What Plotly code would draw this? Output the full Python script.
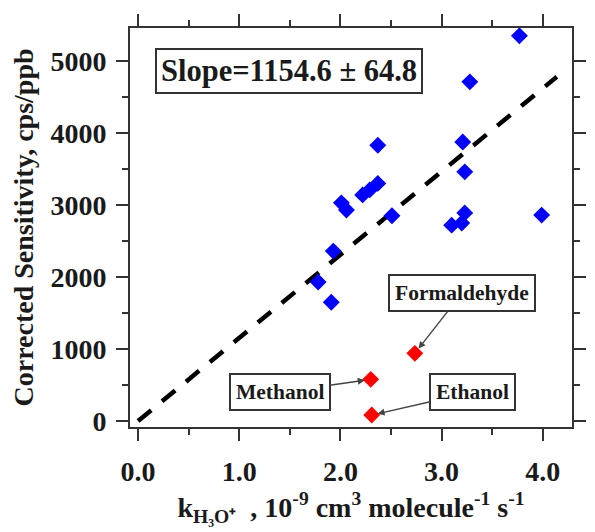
import plotly.graph_objects as go

# ---- data ----
blue_x = [1.78, 1.91, 1.93, 2.01, 2.06, 2.22, 2.29, 2.37, 2.37, 2.51, 3.10, 3.20, 3.23, 3.23, 3.21, 3.28, 3.77, 3.99]
blue_y = [1930, 1650, 2360, 3030, 2930, 3140, 3210, 3300, 3830, 2850, 2720, 2750, 2890, 3460, 3875, 4710, 5350, 2860]

red_x = [2.736, 2.30, 2.31]
red_y = [940, 579, 83]
red_labels = ["Formaldehyde", "Methanol", "Ethanol"]

slope = 1154.6
slope_err = 64.8
fit_x = [0.0, 4.14]
fit_y = [slope * v for v in fit_x]

x_ticks = [0.0, 1.0, 2.0, 3.0, 4.0]
y_ticks = [0, 1000, 2000, 3000, 4000, 5000]

FONT = "Liberation Serif, Times New Roman, serif"
TXT = "#1a1a1a"
AX = "#333333"

fig = go.Figure()

fig.add_trace(go.Scatter(
    x=fit_x, y=fit_y, mode="lines",
    line=dict(color="black", width=4.5, dash="17px,14px"),
    showlegend=False, hoverinfo="skip"))

fig.add_trace(go.Scatter(
    x=blue_x, y=blue_y, mode="markers",
    marker=dict(symbol="diamond", size=13, color="#0000ff", line=dict(width=0)),
    showlegend=False))

fig.add_trace(go.Scatter(
    x=red_x, y=red_y, mode="markers",
    marker=dict(symbol="diamond", size=13, color="#ff0000", line=dict(width=0)),
    showlegend=False))

# label offsets (pixels) from the points
offsets = {"Formaldehyde": (47, -60), "Methanol": (-91, 13), "Ethanol": (101, -23)}
annotations = []
for lx, ly, lab in zip(red_x, red_y, red_labels):
    ax_, ay_ = offsets[lab]
    annotations.append(dict(
        x=lx, y=ly, xref="x", yref="y", text=lab, showarrow=True,
        ax=ax_, ay=ay_, arrowhead=2, arrowsize=1, arrowwidth=1.4,
        arrowcolor="#444444", standoff=6,
        font=dict(family=FONT, size=21.5, color=TXT, weight="bold"),
        bordercolor=AX, borderwidth=2, borderpad=5, bgcolor="white"))

annotations.append(dict(
    x=0.36, y=0.893, xref="paper", yref="paper", showarrow=False,
    xanchor="center", yanchor="middle",
    text=f"Slope={slope:.1f} \u00b1 {slope_err:.1f}",
    font=dict(family=FONT, size=30.5, color=TXT, weight="bold"),
    bordercolor=AX, borderwidth=2, borderpad=4, bgcolor="white"))

axis_common = dict(
    showline=True, linecolor=AX, linewidth=2, mirror="ticks",
    ticks="outside", ticklen=12, tickwidth=2, tickcolor=AX,
    showgrid=False, zeroline=False, automargin=False,
    tickfont=dict(family=FONT, size=28, color=TXT, weight="bold"),
)

fig.update_layout(
    width=595, height=532,
    # page body adds an 8px offset; margins compensate for it
    margin=dict(l=122, r=31, t=20, b=113),
    paper_bgcolor="white", plot_bgcolor="white",
    annotations=annotations,
    xaxis=dict(
        **axis_common,
        range=[-0.08, 4.29], tickvals=x_ticks, tickformat=".1f",
        minor=dict(dtick=0.5, tick0=0, ticks="outside", ticklen=6, tickwidth=2, tickcolor=AX),
        ticklabelstandoff=6,
        title=dict(
            text="k<sub>H\u2083O\u207a</sub>  , 10<sup>-9</sup> cm<sup>3</sup> molecule<sup>-1</sup> s<sup>-1</sup>",
            font=dict(family=FONT, size=28, color=TXT, weight="bold"), standoff=12),
    ),
    yaxis=dict(
        **axis_common,
        range=[-83, 5458], tickvals=y_ticks, tickformat="d",
        minor=dict(dtick=500, tick0=0, ticks="outside", ticklen=6, tickwidth=2, tickcolor=AX),
        ticklabelstandoff=4,
        title=dict(
            text="Corrected Sensitivity, cps/ppb",
            font=dict(family=FONT, size=28, color=TXT, weight="bold"), standoff=14),
    ),
)

fig.write_html("out.html")
